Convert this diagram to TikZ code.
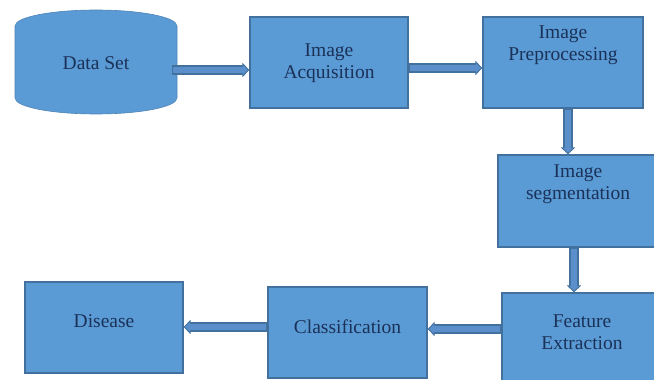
\documentclass[tikz,border=0pt]{standalone}
\usepackage{fontspec}
\setmainfont{Liberation Serif}
\usetikzlibrary{arrows.meta,calc}
\definecolor{boxfill}{HTML}{5B9BD5}
\definecolor{boxedge}{HTML}{41719C}
\definecolor{arrfill}{HTML}{5A8FCB}
\definecolor{txtcol}{HTML}{1A3158}
\newcommand{\inbox}[4]{\parbox[c][#2][t]{#1}{\centering\vspace*{#3}#4}}
\begin{document}
\begin{tikzpicture}[x=1pt,y=-1pt,
  box/.style={draw=boxedge, line width=1.2pt, fill=boxfill, inner sep=0pt, text=txtcol,
    font=\fontsize{19.5}{22}\selectfont},
  plain/.style={inner sep=0pt, text=txtcol, font=\fontsize{19.5}{22}\selectfont},
  flow/.style={line width=9.5pt, draw=boxedge, -{Triangle[length=7pt,width=14pt]},
    postaction={draw=arrfill, line width=6.5pt, -{Triangle[length=5pt,width=10pt]},
      shorten >=1.6pt, shorten <=1pt}}]
\useasboundingbox (0,0) rectangle (654,380);
\clip (0,0) rectangle (654,380);
\fill[white] (0,0) rectangle (654,380);
% Data set cylinder
\filldraw[fill=boxfill, draw=boxfill!85!black, line width=0.6pt]
  (15,26) -- (15,98) arc[start angle=180, end angle=0, x radius=81, y radius=16]
  -- (177,26) arc[start angle=0, end angle=-180, x radius=81, y radius=16] -- cycle;
\node[plain, minimum width=162pt, minimum height=105pt] (ds) at (96,63) {Data Set};
% boxes
\node[box] (acq) at (329,62.5) {\inbox{158pt}{91pt}{26.5pt}{Image\\Acquisition}};
\node[box] (pre) at (563,62.5) {\inbox{160pt}{91pt}{8.5pt}{Image\\Preprocessing}};
\node[box] (seg) at (578,201) {\inbox{160pt}{92pt}{9.5pt}{Image\\segmentation}};
\node[box] (feat) at (582,338.5) {\inbox{160pt}{91pt}{21.5pt}{Feature\\Extraction}};
\node[box] (cls) at (347.5,332.5) {\inbox{159pt}{91pt}{32.5pt}{Classification}};
\node[box] (dis) at (104,327.5) {\inbox{158pt}{91pt}{32.5pt}{Disease}};
% arrows
\draw[flow] ($(ds.east)+(-5,7)$) -- ($(acq.west)+(0,7.5)$);
\draw[flow] ($(acq.east)+(0,5.5)$) -- ($(pre.west)+(0,5.5)$);
\draw[flow] ($(pre.south)+(5,0)$) -- ($(seg.north)+(-10,0)$);
\draw[flow] ($(seg.south)+(-4,0)$) -- ($(feat.north)+(-8,0)$);
\draw[flow] ($(feat.west)+(0,-9.5)$) -- ($(cls.east)+(0,-3.5)$);
\draw[flow] ($(cls.west)+(0,-5.5)$) -- ($(dis.east)+(0,-0.5)$);
\end{tikzpicture}
\end{document}
